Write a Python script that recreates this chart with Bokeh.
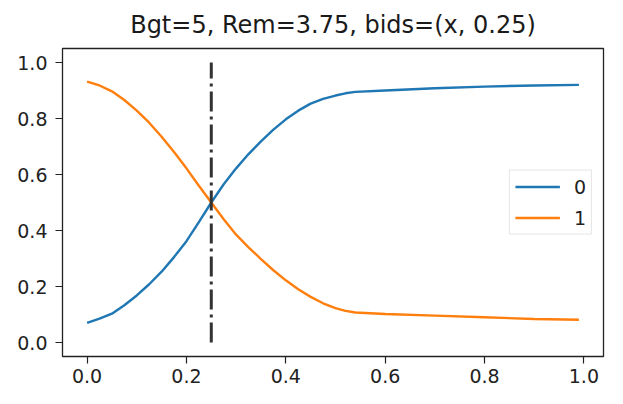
from bokeh.plotting import figure
from bokeh.models import Range1d, Legend, LegendItem, FixedTicker, PrintfTickFormatter
from bokeh.embed import file_html
from bokeh.resources import INLINE

# ---- data ----
x_vals = [0.000, 0.025, 0.050, 0.075, 0.100, 0.125, 0.150, 0.175, 0.200, 0.225,
          0.250, 0.275, 0.300, 0.325, 0.350, 0.375, 0.400, 0.425, 0.450, 0.475,
          0.500, 0.520, 0.540, 0.600, 0.700, 0.800, 0.900, 0.990]
series_0 = [0.070, 0.085, 0.103, 0.133, 0.168, 0.208, 0.253, 0.305, 0.362, 0.430,
            0.500, 0.565, 0.622, 0.673, 0.718, 0.760, 0.797, 0.828, 0.853, 0.870,
            0.882, 0.890, 0.895, 0.900, 0.908, 0.914, 0.918, 0.920]
series_1 = [0.932, 0.918, 0.897, 0.866, 0.828, 0.785, 0.735, 0.680, 0.622, 0.560,
            0.500, 0.440, 0.385, 0.340, 0.298, 0.258, 0.222, 0.190, 0.163, 0.140,
            0.123, 0.113, 0.107, 0.102, 0.096, 0.090, 0.084, 0.081]
series_names = ["0", "1"]
bid_marker_x = [0.25, 0.25]
bid_marker_y = [0.0, 1.0]
x_ticks = [0.0, 0.2, 0.4, 0.6, 0.8, 1.0]
y_ticks = [0.0, 0.2, 0.4, 0.6, 0.8, 1.0]
title_text = "Bgt=5, Rem=3.75, bids=(x, 0.25)"

FONT = "DejaVu Sans"

p = figure(output_backend="svg", toolbar_location=None,
           frame_width=541, frame_height=308,
           min_border_left=62, min_border_right=8,
           min_border_top=48, min_border_bottom=40,
           x_range=Range1d(-0.0495, 1.0395), y_range=Range1d(-0.05, 1.05))

p.title.text = title_text
p.title.align = "center"
p.title.vertical_align = "top"
p.title.text_font = FONT
p.title.text_font_size = "24px"
p.title.text_font_style = "normal"
p.title.text_color = "#1a1a1a"
p.title.standoff = 15

p.xgrid.visible = False
p.ygrid.visible = False
p.outline_line_color = "#222222"
p.outline_line_width = 1.3
p.background_fill_color = "white"
p.border_fill_color = "white"

for ax in (p.xaxis[0], p.yaxis[0]):
    ax.axis_line_color = None
    ax.major_tick_in = 0
    ax.major_tick_out = 7
    ax.major_tick_line_color = "#222222"
    ax.major_tick_line_width = 1.2
    ax.minor_tick_line_color = None
    ax.major_label_text_font = FONT
    ax.major_label_text_font_size = "19px"
    ax.major_label_text_color = "#222222"
    ax.formatter = PrintfTickFormatter(format="%.1f")

p.xaxis[0].ticker = FixedTicker(ticks=x_ticks)
p.yaxis[0].ticker = FixedTicker(ticks=y_ticks)
p.xaxis[0].major_label_standoff = 5
p.yaxis[0].major_label_standoff = 8

r0 = p.line(x_vals, series_0, line_color="#1f77b4", line_width=2.4)
r1 = p.line(x_vals, series_1, line_color="#ff7f0e", line_width=2.4)
p.line(bid_marker_x, bid_marker_y, line_color="#333333", line_width=3,
       line_dash="20 5 3 5")

legend = Legend(items=[LegendItem(label=series_names[0], renderers=[r0]),
                       LegendItem(label=series_names[1], renderers=[r1])],
                location="center_right")
legend.margin = 11
legend.padding = 5
legend.spacing = 9
legend.glyph_width = 45
legend.glyph_height = 22
legend.label_standoff = 14
legend.label_width = 12
legend.label_text_font = FONT
legend.label_text_font_size = "19px"
legend.label_text_color = "#222222"
legend.border_line_color = "#cccccc"
legend.border_line_width = 1
legend.background_fill_alpha = 0.8
p.add_layout(legend)

open("out.html", "w").write(file_html(p, INLINE))
